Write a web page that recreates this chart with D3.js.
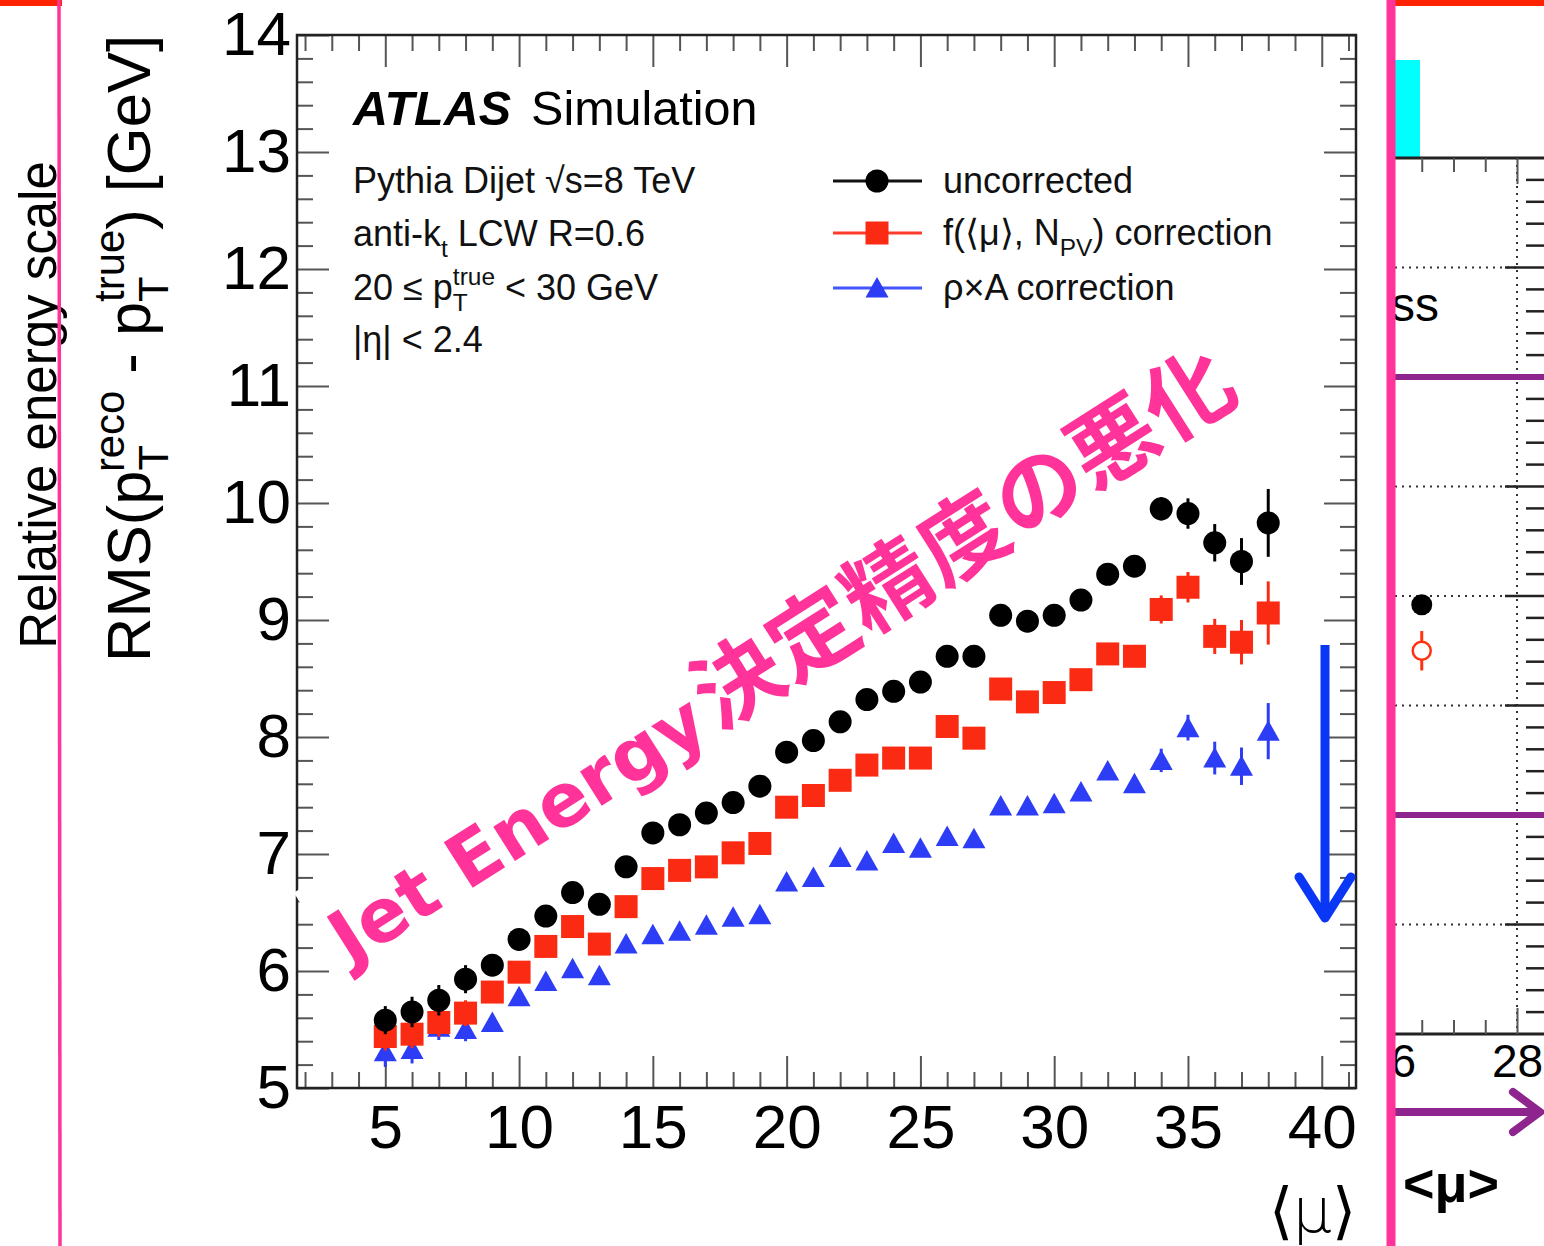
<!DOCTYPE html>
<html>
<head>
<meta charset="utf-8">
<script src="https://cdn.jsdelivr.net/npm/d3@7"></script>
<style>
  body { margin: 0; background: #fff; }
  svg { display: block; }
</style>
</head>
<body>
<div id="chart"></div>
<script>
// pileup values <mu>
const mu = [5, 6, 7, 8, 9, 10, 11, 12, 13, 14, 15, 16, 17, 18, 19, 20, 21,
            22, 23, 24, 25, 26, 27, 28, 29, 30, 31, 32, 33, 34, 35, 36, 37, 38];

const uncorrected = [5.58, 5.65, 5.75, 5.93, 6.05, 6.27, 6.47, 6.67, 6.57, 6.89, 7.18, 7.25,
                     7.35, 7.44, 7.58, 7.87, 7.97, 8.13, 8.32, 8.39, 8.47, 8.69, 8.69, 9.04,
                     8.99, 9.04, 9.17, 9.39, 9.46, 9.95, 9.91, 9.66, 9.50, 9.83];
const uncorrectedErr = [0.12, 0.13, 0.13, 0.12, 0.07, 0.05, 0.05, 0.05, 0.05, 0.05, 0.05, 0.05,
                        0.05, 0.05, 0.05, 0.05, 0.05, 0.05, 0.05, 0.05, 0.05, 0.05, 0.05, 0.06,
                        0.06, 0.06, 0.06, 0.06, 0.06, 0.10, 0.13, 0.16, 0.20, 0.29];

const fCorrection = [5.44, 5.46, 5.56, 5.64, 5.82, 5.99, 6.21, 6.38, 6.23, 6.55, 6.79, 6.86,
                     6.89, 7.01, 7.09, 7.40, 7.50, 7.63, 7.76, 7.82, 7.82, 8.09, 7.99, 8.41,
                     8.30, 8.38, 8.49, 8.71, 8.69, 9.09, 9.28, 8.86, 8.81, 9.06];
const fCorrectionErr = [0.12, 0.12, 0.12, 0.11, 0.07, 0.05, 0.05, 0.05, 0.05, 0.05, 0.05, 0.05,
                        0.05, 0.05, 0.05, 0.05, 0.05, 0.05, 0.05, 0.05, 0.05, 0.05, 0.05, 0.06,
                        0.06, 0.06, 0.06, 0.06, 0.06, 0.12, 0.13, 0.15, 0.19, 0.27];

const rhoA = [5.31, 5.33, 5.52, 5.50, 5.56, 5.78, 5.91, 6.02, 5.96, 6.23, 6.31, 6.34,
              6.39, 6.46, 6.48, 6.76, 6.80, 6.97, 6.94, 7.09, 7.05, 7.15, 7.13, 7.41,
              7.41, 7.43, 7.53, 7.71, 7.60, 7.80, 8.08, 7.82, 7.75, 8.05];
const rhoAErr = [0.13, 0.12, 0.11, 0.10, 0.06, 0.05, 0.05, 0.05, 0.05, 0.05, 0.05, 0.05,
                 0.05, 0.05, 0.05, 0.05, 0.05, 0.05, 0.05, 0.05, 0.05, 0.05, 0.05, 0.06,
                 0.06, 0.06, 0.06, 0.06, 0.06, 0.10, 0.11, 0.14, 0.16, 0.24];

const xTicks = [5, 10, 15, 20, 25, 30, 35, 40];
const yTicks = [5, 6, 7, 8, 9, 10, 11, 12, 13, 14];

// neighbouring slide panel (cut off at the right)
const rpXTicks = [26, 28];
const rpGrid = [1, 2, 3, 4, 5, 6, 7];
const rpLimits = [2, 6];
const rpMu = [26.5];
const rpFilled = [3.92];
const rpOpen = [3.5];
const rpOpenErr = [0.18];

const W = 1544, H = 1246;
const rootFont = "'Liberation Sans', Arial, Helvetica, sans-serif";
const pink = "#ff3399";

const svg = d3.select("#chart").append("svg")
    .attr("width", W).attr("height", H)
    .style("font-family", rootFont);
svg.append("rect").attr("width", W).attr("height", H).attr("fill", "#fff");

const x = d3.scaleLinear().domain([1.7, 41.28]).range([297, 1356]);
const y = d3.scaleLinear().domain([5, 14]).range([1088, 35]);

// text with sub/superscripts; parts are strings or {sub, sup}
function rich(text, parts, fs) {
    let shift = 0, pendingDx = 0;
    parts.forEach(p => {
        if (typeof p === "string") {
            text.append("tspan").attr("dy", -shift).attr("dx", pendingDx).text(p);
            shift = 0; pendingDx = 0;
        } else {
            let subLen = 0, supLen = 0;
            if (p.sub) {
                const s = text.append("tspan").attr("font-size", fs * 0.68)
                    .attr("dx", pendingDx).attr("dy", fs * 0.3 - shift).text(p.sub);
                shift = fs * 0.3; subLen = s.node().getComputedTextLength();
                pendingDx = 0;
            }
            if (p.sup) {
                const s = text.append("tspan").attr("font-size", fs * 0.68)
                    .attr("dx", p.sub ? -subLen : pendingDx).attr("dy", -fs * 0.42 - shift).text(p.sup);
                shift = -fs * 0.42; supLen = s.node().getComputedTextLength();
            }
            pendingDx = subLen > supLen && p.sup ? subLen - supLen : 0;
        }
    });
}

// ---------- axes ----------
const minorX = d3.range(2, 42).filter(v => v % 5 !== 0);
const minorY = d3.range(5, 14.01, 0.2).map(v => +v.toFixed(1)).filter(v => Math.abs(v - Math.round(v)) > 0.01);

function styleAxis(g) {
    g.select(".domain").remove();
    g.selectAll(".tick line").attr("stroke", "#555").attr("stroke-width", 2);
}

svg.append("g").attr("transform", "translate(0,1088)")
    .call(d3.axisBottom(x).tickValues(xTicks).tickSizeInner(-32).tickSizeOuter(0).tickPadding(16))
    .call(styleAxis)
    .call(g => g.selectAll("text").attr("font-size", 62).attr("font-family", rootFont).attr("fill", "#000"));
svg.append("g").attr("transform", "translate(0,1088)")
    .call(d3.axisBottom(x).tickValues(minorX).tickSizeInner(-16).tickSizeOuter(0).tickFormat(""))
    .call(styleAxis);
svg.append("g").attr("transform", "translate(0,35)")
    .call(d3.axisTop(x).tickValues(xTicks).tickSizeInner(-32).tickSizeOuter(0).tickFormat(""))
    .call(styleAxis);
svg.append("g").attr("transform", "translate(0,35)")
    .call(d3.axisTop(x).tickValues(minorX).tickSizeInner(-16).tickSizeOuter(0).tickFormat(""))
    .call(styleAxis);

svg.append("g").attr("transform", "translate(297,0)")
    .call(d3.axisLeft(y).tickValues(yTicks).tickSizeInner(-32).tickSizeOuter(0).tickPadding(6))
    .call(styleAxis)
    .call(g => g.selectAll("text").attr("font-size", 62).attr("font-family", rootFont).attr("fill", "#000"));
svg.append("g").attr("transform", "translate(297,0)")
    .call(d3.axisLeft(y).tickValues(minorY).tickSizeInner(-16).tickSizeOuter(0).tickFormat(""))
    .call(styleAxis);
svg.append("g").attr("transform", "translate(1356,0)")
    .call(d3.axisRight(y).tickValues(yTicks).tickSizeInner(-32).tickSizeOuter(0).tickFormat(""))
    .call(styleAxis);
svg.append("g").attr("transform", "translate(1356,0)")
    .call(d3.axisRight(y).tickValues(minorY).tickSizeInner(-16).tickSizeOuter(0).tickFormat(""))
    .call(styleAxis);

svg.append("rect")
    .attr("x", x.range()[0]).attr("y", y.range()[1])
    .attr("width", x.range()[1] - x.range()[0]).attr("height", y.range()[0] - y.range()[1])
    .attr("fill", "none").attr("stroke", "#222").attr("stroke-width", 2.5);

// axis titles
svg.append("text").attr("x", 1356).attr("y", 1232).attr("text-anchor", "end")
    .attr("font-size", 62).attr("font-family", "'DejaVu Sans', sans-serif").attr("font-weight", 200)
    .text("⟨μ⟩");

const yTitle = svg.append("text")
    .attr("transform", "translate(150,35) rotate(-90)")
    .attr("text-anchor", "end").attr("font-size", 61.5);
rich(yTitle, ["RMS(p", { sub: "T", sup: "reco" }, " - p", { sub: "T", sup: "true" }, ") [GeV]"], 61.5);

svg.append("text")
    .attr("transform", "translate(56,405) rotate(-90)")
    .attr("text-anchor", "middle").attr("font-size", 51)
    .text("Relative energy scale");

// ---------- data ----------
const series = [
    { name: "uncorrected", values: uncorrected, errs: uncorrectedErr, color: "#000", line: "#111", shape: "circle" },
    { name: "f", values: fCorrection, errs: fCorrectionErr, color: "#fb2a12", line: "#ff3b2b", shape: "square" },
    { name: "rho", values: rhoA, errs: rhoAErr, color: "#2d3cf5", line: "#4455ff", shape: "triangle" }
];

function marker(g, shape, color) {
    if (shape === "circle") g.append("circle").attr("r", 11.5).attr("fill", color);
    else if (shape === "square") g.append("rect").attr("x", -11.5).attr("y", -11.5).attr("width", 23).attr("height", 23).attr("fill", color);
    else g.append("path").attr("d", "M0,-11 L11.5,9.5 L-11.5,9.5 Z").attr("fill", color);
}

series.slice().reverse().forEach(s => {
    const g = svg.append("g");
    const pts = mu.map((m, i) => ({ m, v: s.values[i], e: s.errs[i] }));
    g.selectAll("line.err").data(pts).join("line")
        .attr("x1", d => x(d.m)).attr("x2", d => x(d.m))
        .attr("y1", d => y(d.v - d.e)).attr("y2", d => y(d.v + d.e))
        .attr("stroke", s.color).attr("stroke-width", 3);
    g.selectAll("g.pt").data(pts).join("g")
        .attr("transform", d => `translate(${x(d.m)},${y(d.v)})`)
        .each(function () { marker(d3.select(this), s.shape, s.color); });
});

// ---------- labels / legend ----------
svg.append("text").attr("x", 353).attr("y", 125).attr("font-size", 48.5)
    .call(t => t.append("tspan").attr("font-weight", "bold").attr("font-style", "italic").text("ATLAS"))
    .call(t => t.append("tspan").attr("dx", 20).text("Simulation"));

const infoRows = [
    ["Pythia Dijet √s=8 TeV"],
    ["anti-k", { sub: "t" }, " LCW R=0.6"],
    ["20 ≤ p", { sub: "T", sup: "true" }, " < 30 GeV"],
    ["|η| < 2.4"]
];
const infoY = [193, 246, 300, 352];
infoRows.forEach((parts, i) => {
    const t = svg.append("text").attr("x", 353).attr("y", infoY[i]).attr("font-size", 36).attr("fill", "#111");
    rich(t, parts, 36);
});

const legendRows = [
    ["uncorrected"],
    ["f(⟨μ⟩, N", { sub: "PV" }, ") correction"],
    ["ρ×A correction"]
];
const legendY = [181, 233, 288];
legendRows.forEach((parts, i) => {
    const s = series[i];
    svg.append("line").attr("x1", 833).attr("x2", 922).attr("y1", legendY[i]).attr("y2", legendY[i])
        .attr("stroke", s.line).attr("stroke-width", 3);
    marker(svg.append("g").attr("transform", `translate(877,${legendY[i]})`), s.shape, s.color);
    const t = svg.append("text").attr("x", 943).attr("y", legendY[i] + 12).attr("font-size", 36).attr("fill", "#111");
    rich(t, parts, 36);
});

// ---------- slide decorations ----------
// neighbouring panel, clipped at the pink divider
svg.append("clipPath").attr("id", "rp").append("rect").attr("x", 1395).attr("y", 0).attr("width", 160).attr("height", H);
const rp = svg.append("g").attr("clip-path", "url(#rp)");
const rx = d3.scaleLinear().domain([26, 28]).range([1390, 1517]);
const ry = d3.scaleLinear().domain([0, 8]).range([1034, 158]);

rp.append("rect").attr("x", 1395).attr("y", 60).attr("width", 25).attr("height", ry(8) - 60).attr("fill", "#00ffff");
rp.selectAll("line.grid").data(rpGrid).join("line")
    .attr("x1", 1395).attr("x2", rx(28)).attr("y1", d => ry(d)).attr("y2", d => ry(d))
    .attr("stroke", "#333").attr("stroke-width", 2).attr("stroke-dasharray", "2,5");
rp.append("line").attr("x1", rx(28)).attr("x2", rx(28)).attr("y1", ry(8)).attr("y2", ry(0))
    .attr("stroke", "#333").attr("stroke-width", 2).attr("stroke-dasharray", "2,5");
const rpMinorY = d3.range(0.2, 8, 0.2).map(v => +v.toFixed(1));
rp.selectAll("line.yt").data(rpMinorY).join("line")
    .attr("x1", d => Number.isInteger(d) ? 1505 : 1526).attr("x2", 1544)
    .attr("y1", d => ry(d)).attr("y2", d => ry(d))
    .attr("stroke", "#222").attr("stroke-width", 2.5);
rp.append("line").attr("x1", 1395).attr("x2", 1544).attr("y1", ry(8)).attr("y2", ry(8)).attr("stroke", "#222").attr("stroke-width", 3);
rp.append("line").attr("x1", 1395).attr("x2", 1544).attr("y1", ry(0)).attr("y2", ry(0)).attr("stroke", "#222").attr("stroke-width", 3);
const rpMinorX = [26.5, 27, 27.5, 28.5];
rp.append("g").attr("transform", `translate(0,${ry(8)})`)
    .call(d3.axisTop(rx).tickValues(rpMinorX).tickSizeInner(-14).tickSizeOuter(0).tickFormat(""))
    .call(styleAxis);
rp.append("g").attr("transform", `translate(0,${ry(8)})`)
    .call(d3.axisTop(rx).tickValues(rpXTicks).tickSizeInner(-26).tickSizeOuter(0).tickFormat(""))
    .call(styleAxis);
rp.append("g").attr("transform", `translate(0,${ry(0)})`)
    .call(d3.axisBottom(rx).tickValues(rpMinorX).tickSizeInner(-14).tickSizeOuter(0).tickFormat(""))
    .call(styleAxis);
rp.append("g").attr("transform", `translate(0,${ry(0)})`)
    .call(d3.axisBottom(rx).tickValues(rpXTicks).tickSizeInner(-26).tickSizeOuter(0).tickPadding(10).tickFormat(d3.format("d")))
    .call(styleAxis)
    .call(g => g.selectAll("text").attr("font-size", 46).attr("font-family", rootFont).attr("fill", "#000"));
rp.selectAll("line.lim").data(rpLimits).join("line")
    .attr("x1", 1395).attr("x2", 1544).attr("y1", d => ry(d)).attr("y2", d => ry(d))
    .attr("stroke", "#8e258e").attr("stroke-width", 6);
rp.append("text").attr("x", 1391).attr("y", 321).attr("font-size", 48).text("ss");
rp.selectAll("line.operr").data(rpMu).join("line")
    .attr("x1", d => rx(d)).attr("x2", d => rx(d))
    .attr("y1", (d, i) => ry(rpOpen[i] - rpOpenErr[i])).attr("y2", (d, i) => ry(rpOpen[i] + rpOpenErr[i]))
    .attr("stroke", "#ff3311").attr("stroke-width", 3);
rp.selectAll("circle.op").data(rpMu).join("circle")
    .attr("cx", d => rx(d)).attr("cy", (d, i) => ry(rpOpen[i])).attr("r", 9)
    .attr("fill", "#fff").attr("stroke", "#ff3311").attr("stroke-width", 2.5);
rp.selectAll("circle.fp").data(rpMu).join("circle")
    .attr("cx", d => rx(d)).attr("cy", (d, i) => ry(rpFilled[i])).attr("r", 10.5).attr("fill", "#000");
rp.append("line").attr("x1", 1395).attr("x2", 1538).attr("y1", 1112).attr("y2", 1112)
    .attr("stroke", "#8e258e").attr("stroke-width", 8);
rp.append("path").attr("d", "M1513,1092 L1540,1112 L1513,1132")
    .attr("fill", "none").attr("stroke", "#8e258e").attr("stroke-width", 8).attr("stroke-linecap", "round");
rp.append("text").attr("x", 1403).attr("y", 1202).attr("font-size", 54).attr("font-weight", "bold").text("<μ>");

// top red bars and pink dividers
svg.append("rect").attr("x", 0).attr("y", 0).attr("width", 62).attr("height", 6).attr("fill", "#ff2200");
svg.append("rect").attr("x", 1393).attr("y", 0).attr("width", 151).attr("height", 6).attr("fill", "#ff2200");
svg.append("line").attr("x1", 59).attr("x2", 60).attr("y1", 0).attr("y2", H).attr("stroke", pink).attr("stroke-width", 3.5);
svg.append("line").attr("x1", 1391).attr("x2", 1391).attr("y1", 0).attr("y2", H).attr("stroke", pink).attr("stroke-width", 9);

// annotation overlay
svg.append("line").attr("x1", 1325).attr("x2", 1325).attr("y1", 645).attr("y2", 916)
    .attr("stroke", "#0a36f5").attr("stroke-width", 9);
svg.append("path").attr("d", "M1299,877 L1325,918 L1351,877")
    .attr("fill", "none").attr("stroke", "#0a36f5").attr("stroke-width", 9)
    .attr("stroke-linecap", "round").attr("stroke-linejoin", "round");

const ann = svg.append("g").attr("transform", "translate(350,966) rotate(-32.5)");
const annText = ann.append("text").attr("font-weight", "bold").attr("fill", pink);
annText.append("tspan").attr("font-family", "'DejaVu Sans', sans-serif").attr("font-size", 74).text("Jet Energy");
annText.append("tspan").attr("font-family", "'Noto Sans CJK JP', sans-serif").attr("font-size", 88)
    .attr("dx", 6).attr("letter-spacing", 1).text("決定精度の悪化");
const annBox = annText.node().getBBox();
ann.insert("rect", "text").attr("x", -8).attr("y", -92)
    .attr("width", annBox.width + 10).attr("height", 114).attr("fill", "#fff");
</script>
</body>
</html>
